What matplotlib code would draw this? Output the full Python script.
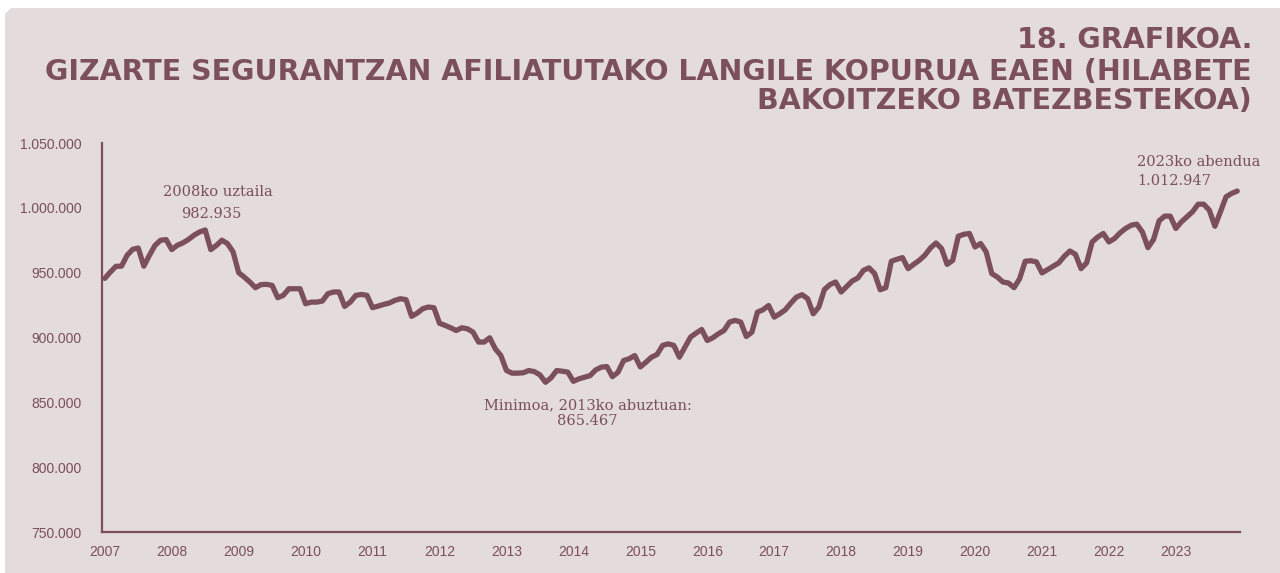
import matplotlib
matplotlib.use("Agg")
import matplotlib.pyplot as plt
from matplotlib.patches import Polygon
import numpy as np

# monthly average of affiliated workers, Jan 2007 .. Dec 2023
aff_2007 = [945600, 950500, 954900, 955000, 963400, 968000, 969000, 955000, 963400, 971000, 975000, 975500]
aff_2008 = [967800, 971100, 973000, 975600, 978900, 981400, 982935, 967800, 971000, 975000, 972400, 966000]
aff_2009 = [950000, 946600, 942800, 938400, 940800, 941000, 940200, 930700, 932500, 937600, 937600, 937600]
aff_2010 = [926000, 927300, 927300, 928100, 933800, 935100, 935100, 924000, 927300, 932500, 933200, 932500]
aff_2011 = [923000, 924200, 925500, 926600, 928600, 929900, 929200, 916300, 918800, 922200, 923500, 923000]
aff_2012 = [911000, 909300, 907500, 905400, 907500, 906700, 904200, 896500, 896500, 899800, 891300, 886100]
aff_2013 = [874600, 872500, 872500, 872800, 874500, 873700, 871200, 865467, 868900, 874500, 874000, 873300]
aff_2014 = [866200, 868100, 869400, 870600, 875000, 877100, 877600, 869800, 873200, 882200, 883600, 886100]
aff_2015 = [877300, 880900, 884800, 886900, 893900, 895100, 893900, 884800, 892600, 900300, 903400, 906200]
aff_2016 = [897700, 899800, 902900, 905400, 911900, 913200, 911900, 900800, 904100, 919600, 921400, 924700]
aff_2017 = [915700, 918300, 921400, 926600, 931200, 933000, 929900, 918300, 923500, 937000, 940800, 942800]
aff_2018 = [935100, 939400, 943600, 945900, 951800, 953700, 949300, 936800, 938400, 958800, 960300, 961600]
aff_2019 = [953100, 956400, 959500, 963400, 969000, 972900, 968600, 956400, 959500, 978100, 979600, 980200]
aff_2020 = [969800, 972500, 966000, 949300, 946600, 942800, 942000, 938400, 945400, 958800, 959200, 958300]
aff_2021 = [949800, 952400, 954900, 957500, 962600, 966700, 964200, 953100, 957500, 973700, 977500, 980200]
aff_2022 = [973700, 976300, 980700, 984100, 986600, 987400, 981400, 969300, 975600, 990000, 993600, 993600]
aff_2023 = [984100, 989200, 993100, 997000, 1002800, 1002800, 998200, 985800, 997000, 1008500, 1011100, 1012947]

years = list(range(2007, 2024))
y_ticks = [750000, 800000, 850000, 900000, 950000, 1000000, 1050000]

affiliates = (aff_2007 + aff_2008 + aff_2009 + aff_2010 + aff_2011 + aff_2012 + aff_2013 + aff_2014
              + aff_2015 + aff_2016 + aff_2017 + aff_2018 + aff_2019 + aff_2020 + aff_2021 + aff_2022 + aff_2023)
months = np.arange(len(affiliates))

wine = "#7b4f5c"
bg = "#e3dbdc"


def dotted(v):
    return f"{v:,.0f}".replace(",", ".")


fig = plt.figure(figsize=(12.8, 5.73), dpi=100)
fig.patch.set_facecolor("white")
# panel background with a small chamfer top-left
W, H = 1280, 573
pts = [(5, 14), (11, 8), (W, 8), (W, H), (5, H)]
panel = Polygon([(x / W, 1 - y / H) for x, y in pts], closed=True,
                transform=fig.transFigure, facecolor=bg, edgecolor="none", zorder=-10)
fig.patches.append(panel)

ax = fig.add_axes([102 / W, 1 - 532 / H, (1240 - 102) / W, (532 - 143) / H])
ax.set_facecolor("none")
ax.plot(months, affiliates, color=wine, linewidth=3.8, solid_joinstyle="round", solid_capstyle="round")

ax.set_xlim(-0.5, len(affiliates) - 0.5)
ax.set_ylim(750000, 1050000)
ax.set_yticks(y_ticks)
ax.set_yticklabels([dotted(v) for v in y_ticks])
ax.set_xticks(months[::12])
ax.set_xticklabels([str(y) for y in years])
ax.tick_params(length=0, colors=wine, labelsize=10)
ax.tick_params(axis="x", pad=9)
ax.tick_params(axis="y", pad=15)
for lbl in ax.get_xticklabels() + ax.get_yticklabels():
    lbl.set_family(["Liberation Sans Narrow", "Liberation Sans"])
for s in ["top", "right"]:
    ax.spines[s].set_visible(False)
for s in ["left", "bottom"]:
    ax.spines[s].set_color(wine)
    ax.spines[s].set_linewidth(1.6)

# annotations (offsets in pixels)
peak = int(np.argmax(affiliates[:36]))
low = int(np.argmin(affiliates))
last = len(affiliates) - 1
ann = dict(color=wine, fontsize=10.5, family="DejaVu Serif", textcoords="offset pixels")
ax.annotate("2008ko uztaila", (peak, affiliates[peak]), xytext=(13, 31),
            ha="center", va="bottom", **ann)
ax.annotate(dotted(affiliates[peak]), (peak, affiliates[peak]), xytext=(6, 9),
            ha="center", va="bottom", **ann)
ax.annotate("Minimoa, 2013ko abuztuan:", (low, affiliates[low]), xytext=(42, -16),
            ha="center", va="top", **ann)
ax.annotate(dotted(affiliates[low]), (low, affiliates[low]), xytext=(42, -32),
            ha="center", va="top", **ann)
ax.annotate("2023ko abendua", (last, affiliates[last]), xytext=(-100, 22),
            ha="left", va="bottom", **ann)
ax.annotate(dotted(affiliates[last]), (last, affiliates[last]), xytext=(-100, 3),
            ha="left", va="bottom", **ann)

# title
tkw = dict(color=wine, fontsize=20.5, fontweight="heavy", ha="right", va="center", family="DejaVu Sans")
fig.text(1252 / W, 1 - 40 / H, "18. GRAFIKOA.", **tkw)
fig.text(1252 / W, 1 - 72 / H, "GIZARTE SEGURANTZAN AFILIATUTAKO LANGILE KOPURUA EAEN (HILABETE", **tkw)
fig.text(1252 / W, 1 - 101 / H, "BAKOITZEKO BATEZBESTEKOA)", **tkw)

fig.savefig("out.png", dpi=100, facecolor=fig.get_facecolor())
